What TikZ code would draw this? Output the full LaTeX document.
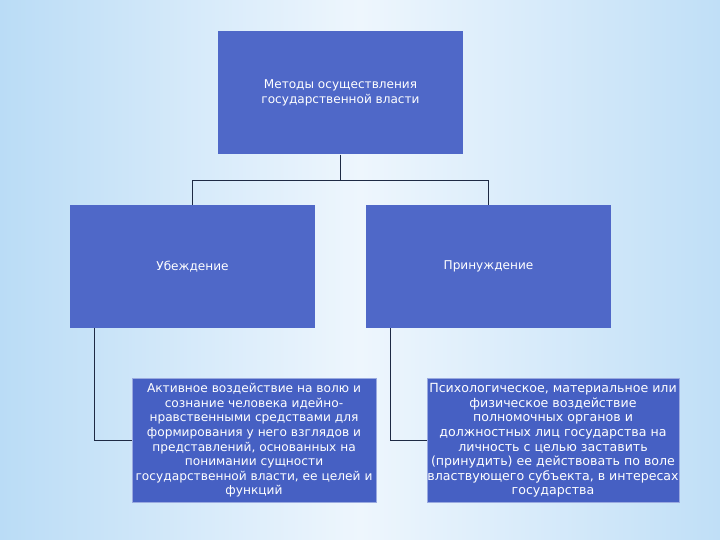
\documentclass[tikz,border=0pt]{standalone}
\usepackage{fontspec}
\setmainfont{DejaVu Sans}
\definecolor{boxblue}{HTML}{4F68C8}
\definecolor{lowblue}{HTML}{4660C3}
\definecolor{edgeblue}{HTML}{9AAAE0}
\definecolor{bgleft}{HTML}{BADCF6}
\definecolor{bgmid}{HTML}{EEF6FD}
\definecolor{bgright}{HTML}{C0DFF7}
\definecolor{linkcol}{HTML}{1E2A44}
\begin{document}
\begin{tikzpicture}[x=1pt,y=-1pt,
		topbox/.style={rectangle,fill=boxblue,text=white,minimum width=245,minimum height=123,align=center,font=\fontsize{12.1}{14.5}\selectfont},
		lowbox/.style={rectangle,fill=lowblue,draw=edgeblue,line width=0.6pt,text=white,minimum width=244,minimum height=124,inner sep=0.5pt,align=center,font=\fontsize{12.2}{14.6}\selectfont},
		link/.style={draw=linkcol,line width=0.8pt}]
		\fill[left color=bgleft,right color=bgright,middle color=bgmid] (0,0) rectangle (720,540);
		\useasboundingbox (0,0) rectangle (720,540);
		\node (metody) at (340.5, 93) [topbox] {Методы осуществления\\государственной власти};
		\node (ubezh) at (192.5, 266.5) [topbox] {Убеждение};
		\node (prinuzh) at (488.5, 266.5) [topbox] {Принуждение};
		\node (aktiv) at (254, 440.5) [lowbox] {Активное воздействие на волю и\\сознание человека идейно-\\нравственными средствами для\\формирования у него взглядов и\\представлений, основанных на\\понимании сущности\\государственной власти, ее целей и\\функций};
		\node (psych) at (553, 440.5) [lowbox,minimum width=252,font=\fontsize{12.6}{14.6}\selectfont] {Психологическое, материальное или\\физическое воздействие\\полномочных органов и\\должностных лиц государства на\\личность с целью заставить\\(принудить) ее действовать по воле\\властвующего субъекта, в интересах\\государства};
		\draw[link] (metody.south)--++(0,26) -| (ubezh.north);
		\draw[link] (metody.south)--++(0,26) -| (prinuzh.north);
		\draw[link] ([xshift=25]ubezh.south west) |- (aktiv.west);
		\draw[link] ([xshift=25]prinuzh.south west) |- (psych.west);
	\end{tikzpicture}
\end{document}
